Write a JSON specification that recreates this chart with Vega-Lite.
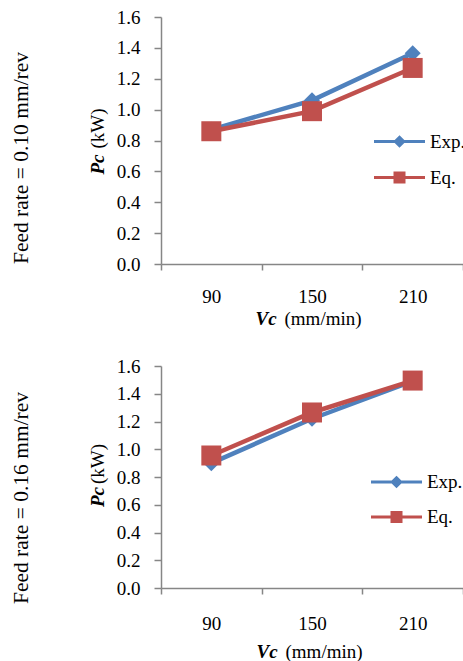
{
  "$schema": "https://vega.github.io/schema/vega-lite/v6.json",
  "autosize": {"type": "pad"},
  "padding": {"left": 10, "top": 8, "right": 0, "bottom": 0},
  "background": "white",
  "config": {
    "view": {"stroke": null},
    "font": "Liberation Serif",
    "axis": {"labelColor": "black", "titleColor": "black", "grid": false, "labelFont": "Liberation Serif", "titleFont": "Liberation Serif", "labelFontSize": 19, "titleFontSize": 19, "domainColor": "#868686", "tickColor": "#868686", "domainWidth": 1.5, "tickWidth": 1.5},
    "legend": {"labelFont": "Liberation Serif", "labelFontSize": 19, "labelColor": "black"}
  },
  "datasets": {
    "p1": [
      {"Vc": 90, "series": "Exp.", "Pc": 0.87},
      {"Vc": 150, "series": "Exp.", "Pc": 1.06},
      {"Vc": 210, "series": "Exp.", "Pc": 1.365},
      {"Vc": 90, "series": "Eq.", "Pc": 0.86},
      {"Vc": 150, "series": "Eq.", "Pc": 0.99},
      {"Vc": 210, "series": "Eq.", "Pc": 1.27}
    ],
    "p2": [
      {"Vc": 90, "series": "Exp.", "Pc": 0.9},
      {"Vc": 150, "series": "Exp.", "Pc": 1.22},
      {"Vc": 210, "series": "Exp.", "Pc": 1.49},
      {"Vc": 90, "series": "Eq.", "Pc": 0.955},
      {"Vc": 150, "series": "Eq.", "Pc": 1.265},
      {"Vc": 210, "series": "Eq.", "Pc": 1.495}
    ]
  },
  "vconcat": [
    {
      "width": 302,
      "height": 247,
      "data": {"name": "p1"},
      "title": {"text": "Feed rate = 0.10 mm/rev", "orient": "left", "frame": "group", "anchor": "middle", "font": "Liberation Serif", "fontSize": 21.5, "fontWeight": "normal", "color": "black", "offset": 56, "dx": -17.5},
      "layer": [
        {
          "mark": {"type": "line", "strokeWidth": 4.5},
          "encoding": {
            "x": {"field": "Vc", "type": "quantitative", "scale": {"domain": [60, 240], "nice": false, "zero": false},
              "axis": {"orient": "bottom", "values": [90, 150, 210], "tickSize": 6, "tickOpacity": 0, "domainOpacity": 0, "labelPadding": 17, "labelFlush": false, "title": "(mm/min)", "titleX": 123, "titleAlign": "left", "titleFontWeight": "normal", "titlePadding": 3}},
            "y": {"field": "Pc", "type": "quantitative", "scale": {"domain": [0, 1.6], "nice": false},
              "axis": {"orient": "left", "values": [0, 0.2, 0.4, 0.6, 0.8, 1.0, 1.2, 1.4, 1.6], "format": ".1f", "tickSize": 7, "labelPadding": 14, "title": "(kW)", "titleY": 111, "titleFontWeight": "normal", "titlePadding": 9}},
            "color": {"field": "series", "type": "nominal", "scale": {"domain": ["Exp.", "Eq."], "range": ["#4F81BD", "#C0504D"]}}
          }
        },
        {
          "mark": {"type": "point", "filled": true, "opacity": 1, "size": 400},
          "encoding": {
            "x": {"field": "Vc", "type": "quantitative", "scale": {"domain": [60, 240], "nice": false, "zero": false},
              "axis": {"orient": "bottom", "values": [60, 120, 180, 240], "tickSize": 6, "labelOpacity": 0, "labelPadding": 17, "labelFlush": false, "title": "Vc", "titleX": 94, "titleAlign": "left", "titleFontWeight": "bold", "titleFontStyle": "italic", "titlePadding": 3}},
            "y": {"field": "Pc", "type": "quantitative", "scale": {"domain": [0, 1.6], "nice": false},
              "axis": {"orient": "left", "values": [0, 0.2, 0.4, 0.6, 0.8, 1.0, 1.2, 1.4, 1.6], "format": ".1f", "tickSize": 7, "labelPadding": 14, "labelOpacity": 0, "tickOpacity": 0, "domainOpacity": 0, "title": "Pc", "titleY": 147, "titleFontWeight": "bold", "titleFontStyle": "italic", "titlePadding": 9}},
            "color": {"field": "series", "type": "nominal", "scale": {"domain": ["Exp.", "Eq."], "range": ["#4F81BD", "#C0504D"]}},
            "shape": {"condition": {"test": "datum.series === 'Exp.'", "value": "M0,-0.8L0.8,0L0,0.8L-0.8,0Z"}, "value": "square"}
          }
        },
        {
          "mark": {"type": "point", "filled": true, "opacity": 0, "size": 400},
          "encoding": {
            "x": {"field": "Vc", "type": "quantitative", "scale": {"domain": [60, 240], "nice": false, "zero": false}, "axis": null},
            "y": {"field": "Pc", "type": "quantitative", "scale": {"domain": [0, 1.6], "nice": false}, "axis": null},
            "color": {"field": "series", "type": "nominal", "scale": {"domain": ["Exp.", "Eq."], "range": ["#4F81BD", "#C0504D"]},
              "legend": {"orient": "none", "legendX": 227, "legendY": 113, "title": null, "padding": 0, "symbolSize": 400, "symbolStrokeWidth": 3, "symbolOpacity": 1, "labelOffset": 19, "rowPadding": 14}},
            "stroke": {"field": "series", "type": "nominal", "scale": {"domain": ["Exp.", "Eq."], "range": ["#4F81BD", "#C0504D"]}},
            "shape": {"field": "series", "type": "nominal", "scale": {"domain": ["Exp.", "Eq."], "range": ["M-2.55,0H2.55M0,-0.42L0.42,0L0,0.42L-0.42,0Z", "M-2.55,0H2.55M-0.45,-0.45H0.45V0.45H-0.45Z"]}}
          }
        }
      ],
      "resolve": {"axis": {"x": "independent", "y": "independent"}}
    },
    {
      "width": 302,
      "height": 222,
      "data": {"name": "p2"},
      "title": {"text": "Feed rate = 0.16 mm/rev", "orient": "left", "frame": "group", "anchor": "middle", "font": "Liberation Serif", "fontSize": 21.5, "fontWeight": "normal", "color": "black", "offset": 56, "dx": -21},
      "layer": [
        {
          "mark": {"type": "line", "strokeWidth": 4.5},
          "encoding": {
            "x": {"field": "Vc", "type": "quantitative", "scale": {"domain": [60, 240], "nice": false, "zero": false},
              "axis": {"orient": "bottom", "values": [90, 150, 210], "tickSize": 6, "tickOpacity": 0, "domainOpacity": 0, "labelPadding": 20, "labelFlush": false, "title": "(mm/min)", "titleX": 124, "titleAlign": "left", "titleFontWeight": "normal", "titlePadding": 9}},
            "y": {"field": "Pc", "type": "quantitative", "scale": {"domain": [0, 1.6], "nice": false},
              "axis": {"orient": "left", "values": [0, 0.2, 0.4, 0.6, 0.8, 1.0, 1.2, 1.4, 1.6], "format": ".1f", "tickSize": 7, "labelPadding": 14, "title": "(kW)", "titleY": 97.5, "titleFontWeight": "normal", "titlePadding": 9}},
            "color": {"field": "series", "type": "nominal", "scale": {"domain": ["Exp.", "Eq."], "range": ["#4F81BD", "#C0504D"]}}
          }
        },
        {
          "mark": {"type": "point", "filled": true, "opacity": 1, "size": 400},
          "encoding": {
            "x": {"field": "Vc", "type": "quantitative", "scale": {"domain": [60, 240], "nice": false, "zero": false},
              "axis": {"orient": "bottom", "values": [60, 120, 180, 240], "tickSize": 6, "labelOpacity": 0, "labelPadding": 20, "labelFlush": false, "title": "Vc", "titleX": 95, "titleAlign": "left", "titleFontWeight": "bold", "titleFontStyle": "italic", "titlePadding": 9}},
            "y": {"field": "Pc", "type": "quantitative", "scale": {"domain": [0, 1.6], "nice": false},
              "axis": {"orient": "left", "values": [0, 0.2, 0.4, 0.6, 0.8, 1.0, 1.2, 1.4, 1.6], "format": ".1f", "tickSize": 7, "labelPadding": 14, "labelOpacity": 0, "tickOpacity": 0, "domainOpacity": 0, "title": "Pc", "titleY": 130.5, "titleFontWeight": "bold", "titleFontStyle": "italic", "titlePadding": 9}},
            "color": {"field": "series", "type": "nominal", "scale": {"domain": ["Exp.", "Eq."], "range": ["#4F81BD", "#C0504D"]}},
            "shape": {"condition": {"test": "datum.series === 'Exp.'", "value": "M0,-0.8L0.8,0L0,0.8L-0.8,0Z"}, "value": "square"}
          }
        },
        {
          "mark": {"type": "point", "filled": true, "opacity": 0, "size": 400},
          "encoding": {
            "x": {"field": "Vc", "type": "quantitative", "scale": {"domain": [60, 240], "nice": false, "zero": false}, "axis": null},
            "y": {"field": "Pc", "type": "quantitative", "scale": {"domain": [0, 1.6], "nice": false}, "axis": null},
            "color": {"field": "series", "type": "nominal", "scale": {"domain": ["Exp.", "Eq."], "range": ["#4F81BD", "#C0504D"]},
              "legend": {"orient": "none", "legendX": 224, "legendY": 104.5, "title": null, "padding": 0, "symbolSize": 400, "symbolStrokeWidth": 3, "symbolOpacity": 1, "labelOffset": 19, "rowPadding": 13}},
            "stroke": {"field": "series", "type": "nominal", "scale": {"domain": ["Exp.", "Eq."], "range": ["#4F81BD", "#C0504D"]}},
            "shape": {"field": "series", "type": "nominal", "scale": {"domain": ["Exp.", "Eq."], "range": ["M-2.55,0H2.55M0,-0.42L0.42,0L0,0.42L-0.42,0Z", "M-2.55,0H2.55M-0.45,-0.45H0.45V0.45H-0.45Z"]}}
          }
        }
      ],
      "resolve": {"axis": {"x": "independent", "y": "independent"}}
    }
  ],
  "spacing": 102,
  "bounds": "flush",
  "resolve": {"scale": {"color": "independent", "shape": "independent", "stroke": "independent"}, "legend": {"color": "independent", "shape": "independent", "stroke": "independent"}}
}
